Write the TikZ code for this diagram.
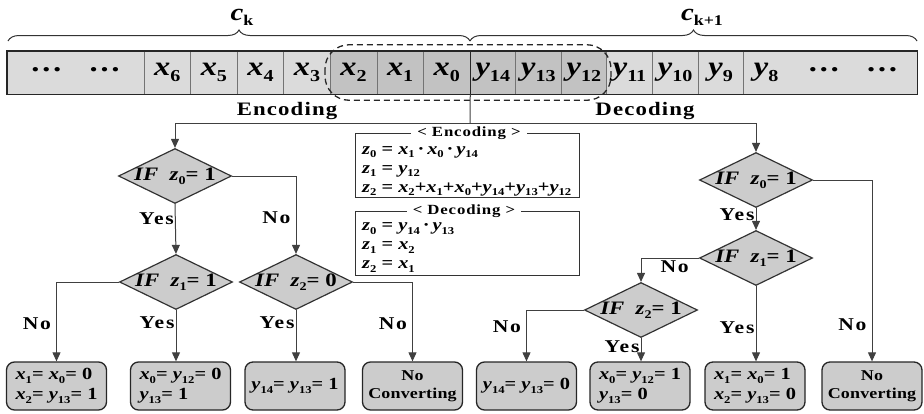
\documentclass[tikz,border=0pt]{standalone}
\usepackage{fontspec}
\setmainfont{Liberation Serif}
\newfontfamily\widefont[FakeStretch=1.2]{Liberation Serif}
\usetikzlibrary{arrows.meta,shapes.geometric,decorations.pathreplacing}
\definecolor{barfill}{gray}{0.86}
\definecolor{selfill}{gray}{0.76}
\definecolor{boxfill}{gray}{0.80}
\definecolor{linecol}{gray}{0.25}
\newcommand{\vv}[2]{\textbf{\textit{#1}}\raisebox{-0.22em}{\scalebox{0.62}{\textbf{#2}}}}
\tikzset{
  cell/.style={draw=black!55, line width=0.5pt, minimum width=46.6pt, minimum height=43pt,
    inner sep=0pt, fill=barfill, font=\widefont\fontsize{27}{30}\selectfont},
  brace/.style={decorate, decoration={brace, amplitude=11pt}, draw=black!80, line width=1pt},
  flow/.style={draw=linecol, line width=1pt, -{Triangle[length=9pt,width=8pt]}},
  lbl/.style={font=\widefont\fontsize{18}{20}\selectfont\bfseries\addfontfeatures{LetterSpace=10}, inner sep=1pt},
  dec/.style={shape=diamond, draw=black!80, line width=1.2pt, fill=boxfill, aspect=2,
    inner sep=-3pt, minimum width=113pt, minimum height=55pt, font=\widefont\fontsize{19}{22}\selectfont},
  leaf/.style={draw=black!85, line width=1.3pt, rounded corners=8pt, fill=boxfill,
    minimum width=100pt, minimum height=48pt, inner sep=2pt, align=left,
    font=\widefont\fontsize{17}{20}\selectfont},
  eqbox/.style={draw=black!80, line width=0.9pt, minimum width=224pt, minimum height=64pt},
  eqtext/.style={align=left, anchor=west, inner sep=0pt, font=\widefont\fontsize{17}{19}\selectfont},
  eqtitle/.style={fill=white, inner xsep=6pt, inner ysep=0pt,
    font=\widefont\fontsize{14}{16}\selectfont\bfseries\addfontfeatures{LetterSpace=6}}
}
\newcommand{\ifz}[2]{\textbf{\textit{IF}}\ \ \vv{z}{#1}\textbf{= #2}}

\begin{document}
\begin{tikzpicture}[x=1pt,y=-1pt]
  \useasboundingbox (0,0) rectangle (924,413);
  % code words: c_k and c_{k+1}
  \node[cell, minimum width=137pt, draw=none] (dotsL) at (75.5,72.5)
    {\raisebox{6pt}{\textbf{…}}\hspace{26pt}\raisebox{6pt}{\textbf{…}}};
  \foreach \n [count=\i from 0] in {6,5,4,3}
    \node[cell] (x\n) at (167.3+46.57*\i,72.5) {\vv{x}{\n}};
  \foreach \n [count=\i from 4] in {2,1,0}
    \node[cell, fill=selfill] (x\n) at (167.3+46.57*\i,72.5) {\vv{x}{\n}};
  \foreach \n [count=\i from 0] in {14,13,12}
    \node[cell, fill=selfill, minimum width=45.6pt] (y\n) at (492.8+45.57*\i,72.5) {\vv{y}{\n}};
  \foreach \n [count=\i from 3] in {11,10,9,8}
    \node[cell, minimum width=45.6pt] (y\n) at (492.8+45.57*\i,72.5) {\vv{y}{\n}};
  \node[cell, minimum width=128pt, draw=none] (dotsR) at (853,72.5)
    {\raisebox{6pt}{\textbf{…}}\hspace{26pt}\raisebox{6pt}{\textbf{…}}};
  \draw[black!85, line width=1.5pt] (dotsL.north west) rectangle (dotsR.south east);
  \draw[black!85, line width=1.5pt] (x0.north east) -- (x0.south east);
  \draw[black!85, line width=1.3pt, dash pattern=on 6pt off 4pt, rounded corners=24pt]
    ([xshift=-5pt,yshift=6pt]x2.north west) rectangle ([xshift=4pt,yshift=-6pt]y12.south east);
  % braces
  \draw[brace] (8,41) -- (470,41);
  \draw[brace] (470,41) -- (917,41);
  \node[font=\widefont\fontsize{24}{26}\selectfont] (ck) at (242,17) {\vv{c}{k}};
  \node[font=\widefont\fontsize{24}{26}\selectfont] (ck1) at (702,17) {\vv{c}{k+1}};
  \node[lbl, font=\widefont\fontsize{19}{21}\selectfont\bfseries\addfontfeatures{LetterSpace=6}] (enc) at (287,111) {Encoding};
  \node[lbl, font=\widefont\fontsize{19}{21}\selectfont\bfseries\addfontfeatures{LetterSpace=6}] (dcd) at (645,111) {Decoding};
  % decisions
  \node[dec] (d1) at (175,176) {\ifz{0}{1}};
  \node[dec] (d2) at (176,282) {\ifz{1}{1}};
  \node[dec] (d3) at (296,282) {\ifz{2}{0}};
  \node[dec] (r1) at (756,180) {\ifz{0}{1}};
  \node[dec] (r2) at (756,258) {\ifz{1}{1}};
  \node[dec] (r3) at (641,310) {\ifz{2}{1}};
  % results
  \node[leaf] (res1) at (56.5,386) {\vv{x}{1}\textbf{= }\vv{x}{0}\textbf{= 0}\\\vv{x}{2}\textbf{= }\vv{y}{13}\textbf{= 1}};
  \node[leaf] (res2) at (180.5,386) {\vv{x}{0}\textbf{= }\vv{y}{12}\textbf{= 0}\\\vv{y}{13}\textbf{= 1}};
  \node[leaf] (res3) at (295,386) {\vv{y}{14}\textbf{= }\vv{y}{13}\textbf{= 1}};
  \node[leaf, align=center, font=\widefont\fontsize{15}{18}\selectfont\bfseries\addfontfeatures{LetterSpace=1}] (res4) at (412.5,386) {No\\Converting};
  \node[leaf] (res5) at (526.5,386) {\vv{y}{14}\textbf{= }\vv{y}{13}\textbf{= 0}};
  \node[leaf] (res6) at (640,386) {\vv{x}{0}\textbf{= }\vv{y}{12}\textbf{= 1}\\\vv{y}{13}\textbf{= 0}};
  \node[leaf] (res7) at (755,386) {\vv{x}{1}\textbf{= }\vv{x}{0}\textbf{= 1}\\\vv{x}{2}\textbf{= }\vv{y}{13}\textbf{= 0}};
  \node[leaf, align=center, font=\widefont\fontsize{15}{18}\selectfont\bfseries\addfontfeatures{LetterSpace=1}] (res8) at (872,386) {No\\Converting};
  % z definitions
  \node[eqbox] (encbox) at (467,165) {};
  \node[eqtext] (enceq) at (362,171)
    {\vv{z}{0} \textbf{=} \vv{x}{1}\,\textbf{·}\,\vv{x}{0}\,\textbf{·}\,\vv{y}{14}\\
     \vv{z}{1} \textbf{=} \vv{y}{12}\\
     \vv{z}{2} \textbf{=} \vv{x}{2}\textbf{+}\vv{x}{1}\textbf{+}\vv{x}{0}\textbf{+}\vv{y}{14}\textbf{+}\vv{y}{13}\textbf{+}\vv{y}{12}};
  \node[eqtitle] (enctitle) at (469,133) {< Encoding >};
  \node[eqbox] (dcdbox) at (467,243) {};
  \node[eqtext] (dcdeq) at (362,247.5)
    {\vv{z}{0} \textbf{=} \vv{y}{14}\,\textbf{·}\,\vv{y}{13}\\
     \vv{z}{1} \textbf{=} \vv{x}{2}\\
     \vv{z}{2} \textbf{=} \vv{x}{1}};
  \node[eqtitle] (dcdtitle) at (464,211) {< Decoding >};
  % connectors
  \coordinate (split) at (470,123);
  \draw[linecol, line width=1pt] (x0.south east) -- (split);
  \draw[flow] (split) -| (d1.north);
  \draw[flow] (split) -| (r1.north);
  \draw[flow] (d1.south) -- (d2.north) node[lbl, left, pos=0.3] (yes1) {Yes};
  \draw[flow] (d1.east) -| (d3.north) node[lbl, left=4pt, pos=0.77] (no1) {No};
  \draw[flow] (d2.west) -| (res1.north) node[lbl, left=4pt, pos=0.76] (no2) {No};
  \draw[flow] (d2.south) -- (d2.south |- res2.north) node[lbl, left, pos=0.25] (yes2) {Yes};
  \draw[flow] (d3.south) -- (d3.south |- res3.north) node[lbl, left, pos=0.25] (yes3) {Yes};
  \draw[flow] (d3.east) -| (res4.north) node[lbl, left=4pt, pos=0.76] (no3) {No};
  \draw[flow] (r1.south) -- (r2.north) node[lbl, left, pos=0.3] (yes4) {Yes};
  \draw[flow] (r1.east) -| (res8.north) node[lbl, left=4pt, pos=0.9] (no4) {No};
  \draw[flow] (r2.west) -| (r3.north) node[lbl, pos=0.5, anchor=north west, xshift=18pt, yshift=-1pt] (no5) {No};
  \draw[flow] (r2.south) -- (r2.south |- res7.north) node[lbl, left, pos=0.55] (yes5) {Yes};
  \draw[flow] (r3.west) -| (res5.north) node[lbl, left=4pt, pos=0.66] (no6) {No};
  \draw[flow] (r3.south) -- (r3.south |- res6.north) node[lbl, left, pos=0.375] (yes6) {Yes};
\end{tikzpicture}
\end{document}
